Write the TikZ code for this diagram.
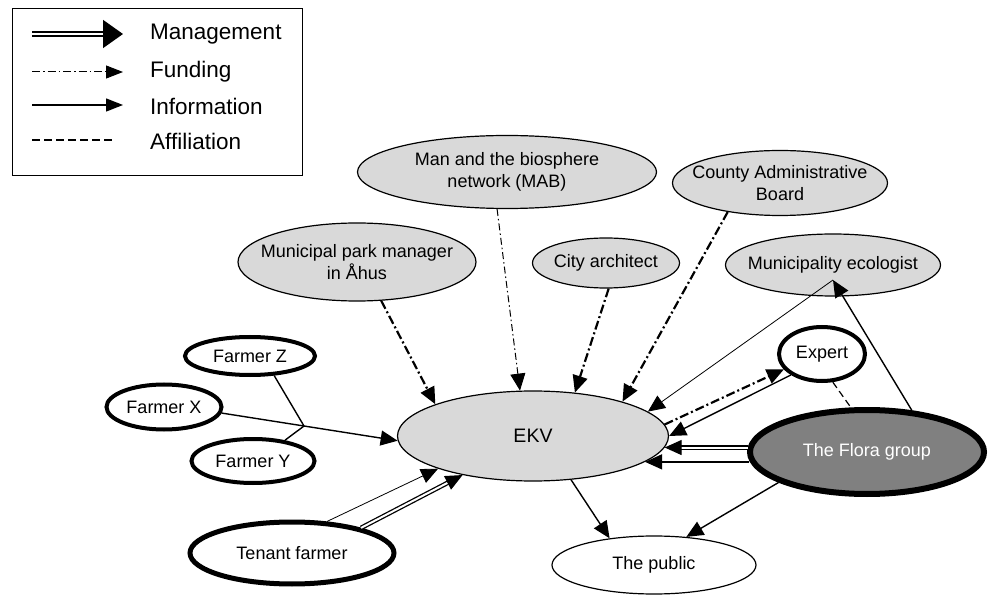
\documentclass[tikz,border=0pt]{standalone}
\usepackage{fontspec}
\setmainfont{Liberation Sans}
\usetikzlibrary{shapes.geometric,arrows.meta,calc}
\definecolor{lightg}{HTML}{D9D9D9}
\definecolor{darkg}{HTML}{808080}
\newcommand{\zw}[1]{\makebox[0pt]{#1}}
\begin{document}
\begin{tikzpicture}[x=1pt,y=-1pt,
  nfont/.style={font=\fontsize{18}{21.5}\selectfont},
  lfont/.style={font=\fontsize{22.5}{26}\selectfont},
  org/.style={ellipse, draw, fill=lightg, line width=1.2pt, inner sep=0pt, align=center, nfont},
  actor/.style={ellipse, draw, fill=white, line width=4pt, inner sep=0pt, align=center, nfont},
  tipa/.style={-{Triangle[length=17pt,width=15pt]}},
  info/.style={line width=1.4pt, tipa},
  infothin/.style={line width=0.8pt, tipa},
  fund/.style={line width=2.2pt, dash pattern=on 9pt off 3pt on 2pt off 3pt, tipa},
  fundthin/.style={line width=1pt, dash pattern=on 7pt off 3pt on 1.5pt off 3pt, tipa},
  mgmt/.style={double, double distance=2pt, line width=1.3pt, tipa},
  affil/.style={line width=1.2pt, dash pattern=on 7pt off 4pt},
]
\useasboundingbox (0,0) rectangle (989,596);

% legend
\node[draw, line width=1.5pt, minimum width=290pt, minimum height=167pt, anchor=north west, inner sep=0pt] (legend) at (11.75,7.75) {};
\coordinate (lm0) at (32,34);  \coordinate (lm1) at (123,34);
\coordinate (lf0) at (32,72);  \coordinate (lf1) at (123,72);
\coordinate (li0) at (32,105); \coordinate (li1) at (123,105);
\coordinate (la0) at (32,140); \coordinate (la1) at (112,140);
\draw[double, double distance=2.2pt, line width=1.7pt, -{Triangle[length=20pt,width=28pt]}] (lm0) -- (lm1);
\draw[line width=1pt, dash pattern=on 8pt off 3pt on 1.5pt off 3pt, -{Triangle[length=17pt,width=13pt]}] (lf0) -- (lf1);
\draw[line width=1.4pt, -{Triangle[length=17pt,width=13pt]}] (li0) -- (li1);
\draw[line width=1.4pt, dash pattern=on 8pt off 4pt] (la0) -- (la1);
\node[lfont, anchor=west, inner sep=0pt] (tm) at (150,34) {Management};
\node[lfont, anchor=west, inner sep=0pt] (tf) at (150,72) {Funding};
\node[lfont, anchor=west, inner sep=0pt] (ti) at (150,106) {Information};
\node[lfont, anchor=west, inner sep=0pt] (ta) at (150,141) {Affiliation};

% nodes
\node[org, font=\fontsize{19.5}{23}\selectfont, minimum width=271pt, minimum height=90pt] (ekv) at (533,436) {EKV};
\node[org, minimum width=238pt, minimum height=78pt] (pm) at (357,262) {\zw{Municipal park manager}\\\zw{in Åhus}};
\node[org, minimum width=299pt, minimum height=73pt] (mab) at (507,172) {\zw{Man and the biosphere}\\\zw{network (MAB)}};
\node[org, minimum width=147pt, minimum height=50pt] (city) at (606,263) {\zw{City architect}};
\node[org, minimum width=215pt, minimum height=65pt] (county) at (780,183) {\zw{County Administrative}\\\zw{Board}};
\node[org, minimum width=215pt, minimum height=62pt] (eco) at (833,265) {\zw{Municipality ecologist}};
\node[actor, minimum width=130pt, minimum height=38pt] (fz) at (250,356) {Farmer Z};
\node[actor, minimum width=115pt, minimum height=45pt] (fx) at (164,407) {Farmer X};
\node[actor, minimum width=123pt, minimum height=44pt] (fy) at (253,461) {Farmer Y};
\node[actor, line width=5pt, minimum width=204pt, minimum height=62pt] (ten) at (292,553) {Tenant farmer};
\node[actor, minimum width=86pt, minimum height=54pt] (expert) at (822,354) {Expert};
\node[actor, line width=6pt, fill=darkg, text=white, minimum width=234pt, minimum height=84pt] (flora) at (867,452) {The Flora group};
\node[org, fill=white, minimum width=204pt, minimum height=58pt] (public) at (654,565) {The public};

% funding
\draw[fund] (pm.-58) -- (ekv.162);
\draw[fundthin] (mab.-105) -- (ekv.106);
\draw[fund] (city.-84) -- (ekv.46);
\draw[fund] (county.-151) -- (ekv.21);
\draw[fund] (ekv.5) -- (expert.-158);

% information
\coordinate (ecoin) at ($(eco.center)+(0,15)$);
\draw[infothin] (ecoin) -- (ekv.12);
\draw[info] (flora.43) -- (ecoin);
\draw[info] (expert.-146) -- (ekv.east);
\draw[info] (flora.-176 |- ekv.-13) -- (ekv.-13);
\draw[info] (ekv.-49) -- (public.149);
\draw[info] (flora.-161) -- (public.41);
\coordinate (j) at ($(fx.-6)!0.468!(ekv.182)$);
\draw[info] (fx.-6) -- (ekv.182);
\draw[line width=1.4pt] (fz.-39) -- (j);
\draw[line width=1.4pt] (fy.33) -- (j);
\draw[infothin] (ten.42) -- (ekv.-161);

% management
\draw[mgmt] (flora.178 |- ekv.-5) -- (ekv.-5);
\draw[mgmt] (ten.20) -- (ekv.-151);

% affiliation
\draw[affil] (expert.-69) -- (flora.110);
\end{tikzpicture}
\end{document}
